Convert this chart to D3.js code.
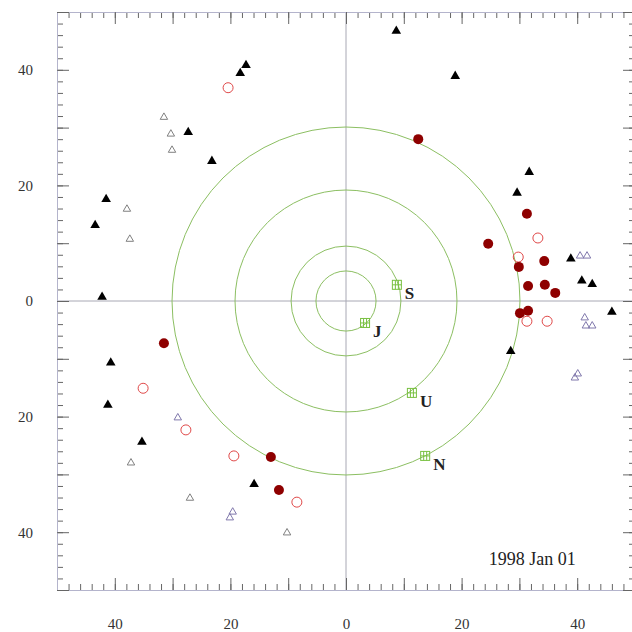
<!DOCTYPE html>
<html lang="en">
<head>
  <meta charset="UTF-8" />
  <title>Outer solar system 1998 Jan 01</title>
  <script src="https://d3js.org/d3.v7.min.js"></script>
  <style>
    body {
      margin: 0;
      background: #fff;
    }
    svg {
      display: block;
      font-family: "Liberation Serif", "DejaVu Serif", serif;
    }
  </style>
</head>
<body>
  <div id="chart"></div>

  <script>
    // positions in AU, x/y in the ecliptic plane
    const blackTriX = [-17.3, -18.3, -27.3, -23.2, -41.5, -43.4, -42.2, 8.7, 18.9, 31.7, 29.6, 38.9, 40.8, 42.6, 46.0, 28.5, -40.7, -41.2, -35.3, -15.9];
    const blackTriY = [40.8, 39.4, 29.2, 24.2, 17.6, 13.1, 0.7, 46.7, 38.9, 22.3, 18.7, 7.3, 3.5, 2.9, -1.9, -8.7, -10.7, -18.0, -24.4, -31.7];

    const grayTriX = [-31.5, -30.3, -30.1, -37.9, -37.4, -37.2, -27.0, -10.2];
    const grayTriY = [31.8, 28.9, 26.1, 15.9, 10.7, -28.0, -34.1, -40.1];

    const blueTriX = [40.5, 41.7, 41.3, 41.5, 42.6, 39.6, 40.1, -29.1, -19.6, -20.1];
    const blueTriY = [7.8, 7.8, -2.9, -4.3, -4.3, -13.3, -12.6, -20.2, -36.5, -37.5];

    const redDotX = [12.5, 24.6, 31.3, 34.3, 29.9, 31.5, 34.4, 36.2, 30.1, 31.5, -31.5, -13.0, -11.6];
    const redDotY = [28.0, 9.9, 15.1, 6.9, 5.9, 2.6, 2.8, 1.4, -2.1, -1.7, -7.3, -27.0, -32.7];

    const redRingX = [-20.4, 33.2, 29.8, 31.3, 34.8, -35.1, -27.7, -19.4, -8.5];
    const redRingY = [36.9, 10.9, 7.6, -3.5, -3.5, -15.1, -22.3, -26.8, -34.8];

    const planetNames = ["J", "S", "U", "N"];
    const planetX = [3.3, 8.8, 11.4, 13.7];
    const planetY = [-3.8, 2.8, -15.9, -26.8];
    const orbitRadii = [5.2, 9.5, 19.2, 30.1];

    const labelTicks = [-40, -20, 0, 20, 40];
    const dateLabel = "1998 Jan 01";

    const width = 632;
    const height = 632;

    const svg = d3.select("#chart")
      .append("svg")
      .attr("width", width)
      .attr("height", height);

    const x = d3.scaleLinear().domain([-50, 50]).range([57, 635]);
    const y = d3.scaleLinear().domain([-50, 50]).range([590, 12]);

    const zip = (xs, ys) => xs.map((v, i) => ({ x: v, y: ys[i] }));

    // crosshair
    svg.append("line")
      .attr("x1", x(0)).attr("x2", x(0))
      .attr("y1", y(50)).attr("y2", y(-50))
      .attr("stroke", "#a8a8b4").attr("stroke-width", 1);
    svg.append("line")
      .attr("x1", x(-50)).attr("x2", x(50))
      .attr("y1", y(0)).attr("y2", y(0))
      .attr("stroke", "#a8a8b4").attr("stroke-width", 1);

    // planet orbits
    svg.append("g")
      .selectAll("circle")
      .data(orbitRadii)
      .enter()
      .append("circle")
      .attr("cx", x(0))
      .attr("cy", y(0))
      .attr("r", d => x(d) - x(0))
      .attr("fill", "none")
      .attr("stroke", "#8cbf62")
      .attr("stroke-width", 1);

    // axes: minor, major, labels on every side
    function styleAxis(g) {
      g.select(".domain").attr("stroke", "#b4b4cc");
      g.selectAll(".tick line").attr("stroke", "#666");
      g.selectAll(".tick text").remove();
    }
    const minorVals = d3.range(-50, 51, 2);
    const majorVals = d3.range(-50, 51, 10);

    [[minorVals, 6], [majorVals, 12]].forEach(([vals, len]) => {
      svg.append("g").attr("transform", `translate(0,${y(-50)})`)
        .call(d3.axisBottom(x).tickValues(vals).tickSize(-len).tickSizeOuter(0)).call(styleAxis);
      svg.append("g").attr("transform", `translate(0,${y(50)})`)
        .call(d3.axisTop(x).tickValues(vals).tickSize(-len).tickSizeOuter(0)).call(styleAxis);
      svg.append("g").attr("transform", `translate(${x(-50)},0)`)
        .call(d3.axisLeft(y).tickValues(vals).tickSize(-len).tickSizeOuter(0)).call(styleAxis);
      svg.append("g").attr("transform", `translate(${x(50)},0)`)
        .call(d3.axisRight(y).tickValues(vals).tickSize(-len).tickSizeOuter(0)).call(styleAxis);
    });

    const fmt = d => String(Math.abs(d));

    const xLab = svg.append("g").attr("transform", `translate(0,${y(-50)})`)
      .call(d3.axisBottom(x).tickValues(labelTicks).tickFormat(fmt).tickSize(0).tickPadding(28));
    xLab.select(".domain").remove();

    const yLab = svg.append("g").attr("transform", `translate(${x(-50)},0)`)
      .call(d3.axisLeft(y).tickValues(labelTicks).tickFormat(fmt).tickSize(0).tickPadding(24));
    yLab.select(".domain").remove();

    svg.selectAll(".tick text")
      .attr("font-family", "'Liberation Serif', serif")
      .attr("font-size", 15)
      .attr("fill", "#333");

    // objects
    const tri = d3.symbol().type(d3.symbolTriangle);

    svg.append("g")
      .selectAll("path")
      .data(zip(grayTriX, grayTriY))
      .enter()
      .append("path")
      .attr("d", tri.size(24)())
      .attr("transform", d => `translate(${x(d.x)},${y(d.y)})`)
      .attr("fill", "none")
      .attr("stroke", "#808080")
      .attr("stroke-width", 1);

    svg.append("g")
      .selectAll("path")
      .data(zip(blueTriX, blueTriY))
      .enter()
      .append("path")
      .attr("d", tri.size(24)())
      .attr("transform", d => `translate(${x(d.x)},${y(d.y)})`)
      .attr("fill", "none")
      .attr("stroke", "#8078ac")
      .attr("stroke-width", 1);

    svg.append("g")
      .selectAll("path")
      .data(zip(blackTriX, blackTriY))
      .enter()
      .append("path")
      .attr("d", tri.size(40)())
      .attr("transform", d => `translate(${x(d.x)},${y(d.y)})`)
      .attr("fill", "#000");

    svg.append("g")
      .selectAll("circle")
      .data(zip(redRingX, redRingY))
      .enter()
      .append("circle")
      .attr("cx", d => x(d.x))
      .attr("cy", d => y(d.y))
      .attr("r", 5)
      .attr("fill", "none")
      .attr("stroke", "#e04848")
      .attr("stroke-width", 1);

    svg.append("g")
      .selectAll("circle")
      .data(zip(redDotX, redDotY))
      .enter()
      .append("circle")
      .attr("cx", d => x(d.x))
      .attr("cy", d => y(d.y))
      .attr("r", 5)
      .attr("fill", "#8e0000");

    // planets: green boxed markers with a letter
    const planets = planetNames.map((n, i) => ({ name: n, x: planetX[i], y: planetY[i] }));
    const pg = svg.append("g")
      .selectAll("g")
      .data(planets)
      .enter()
      .append("g")
      .attr("transform", d => `translate(${x(d.x)},${y(d.y)})`);

    pg.append("rect")
      .attr("x", -4.5).attr("y", -4.5)
      .attr("width", 9).attr("height", 9)
      .attr("fill", "none")
      .attr("stroke", "#78c040")
      .attr("stroke-width", 1);
    pg.append("path")
      .attr("d", "M-1.5,-4.5V4.5M1.5,-4.5V4.5M-4.5,0H4.5")
      .attr("stroke", "#78c040")
      .attr("stroke-width", 1);
    pg.append("text")
      .attr("x", 8)
      .attr("y", 14)
      .attr("font-size", 17)
      .attr("font-weight", "bold")
      .attr("fill", "#222")
      .text(d => d.name);

    svg.append("text")
      .attr("x", x(24.7))
      .attr("y", y(-45.6))
      .attr("font-size", 18)
      .attr("fill", "#222")
      .text(dateLabel);
  </script>
</body>
</html>
